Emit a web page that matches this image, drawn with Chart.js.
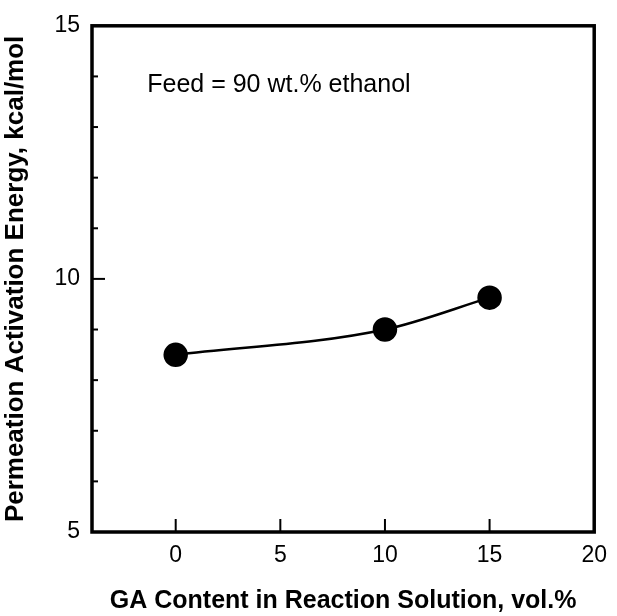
<!DOCTYPE html>
<html>
<head>
<meta charset="utf-8">
<script src="https://cdn.jsdelivr.net/npm/chart.js@4/dist/chart.umd.min.js"></script>
<style>
html,body{margin:0;padding:0;background:#fff;}
#wrap{width:617px;height:616px;}
</style>
</head>
<body>
<div id="wrap"><canvas id="c" width="617" height="616"></canvas></div>
<script>
const gaContent = [0, 10, 15];
const activationEnergy = [8.5, 9.0, 9.63];
const xTickValues = [0, 5, 10, 15, 20];
const yLabelValues = [5, 10, 15];
const xTitle = 'GA Content in Reaction Solution, vol.%';
const yTitle = 'Permeation Activation Energy, kcal/mol';
const noteText = 'Feed = 90 wt.% ethanol';
const notePos = {x: -1.36, y: 13.82};

const FONT = "'Liberation Sans', Arial, Helvetica, sans-serif";

const framePlugin = {
  id: 'frame',
  afterDraw(chart) {
    const ctx = chart.ctx, a = chart.chartArea;
    const xs = chart.scales.x, ys = chart.scales.y;
    ctx.save();
    ctx.strokeStyle = '#000';
    ctx.lineCap = 'butt';
    ctx.lineWidth = 2;
    xs.ticks.forEach(t => {
      if (t.value <= xs.min || t.value >= xs.max) return;
      const px = xs.getPixelForValue(t.value);
      ctx.beginPath(); ctx.moveTo(px, a.bottom); ctx.lineTo(px, a.bottom - 13); ctx.stroke();
    });
    ys.ticks.forEach(t => {
      if (t.value <= ys.min || t.value >= ys.max) return;
      const py = ys.getPixelForValue(t.value);
      const len = (t.value % 5 === 0) ? 13 : 6;
      ctx.beginPath(); ctx.moveTo(a.left, py); ctx.lineTo(a.left + len, py); ctx.stroke();
    });
    ctx.lineWidth = 3.5;
    ctx.strokeRect(a.left, a.top, a.right - a.left, a.bottom - a.top);
    ctx.fillStyle = '#000';
    ctx.font = '25px ' + FONT;
    ctx.textBaseline = 'middle';
    ctx.textAlign = 'left';
    ctx.fillText(noteText, xs.getPixelForValue(notePos.x), ys.getPixelForValue(notePos.y));
    ctx.restore();
  }
};

new Chart(document.getElementById('c'), {
  type: 'line',
  data: {
    datasets: [{
      data: gaContent.map((x, i) => ({x: x, y: activationEnergy[i]})),
      borderColor: '#000',
      borderWidth: 2.5,
      backgroundColor: '#000',
      pointBackgroundColor: '#000',
      pointBorderColor: '#000',
      pointRadius: 11,
      pointHoverRadius: 11,
      cubicInterpolationMode: 'monotone',
      fill: false
    }]
  },
  options: {
    responsive: false,
    animation: false,
    events: [],
    layout: {padding: {top: 24, right: 15, left: 0, bottom: 0}},
    plugins: {legend: {display: false}, tooltip: {enabled: false}},
    scales: {
      x: {
        type: 'linear',
        min: -4, max: 20,
        afterBuildTicks(scale) { scale.ticks = xTickValues.map(v => ({value: v})); },
        afterFit(scale) { scale.height = 84; },
        grid: {display: false, drawTicks: false},
        border: {display: false},
        ticks: {
          color: '#000',
          font: {family: FONT, size: 23},
          padding: 10,
          maxRotation: 0,
          autoSkip: false
        },
        title: {
          display: true,
          text: xTitle,
          color: '#000',
          font: {family: FONT, size: 25, weight: 'bold'},
          padding: {top: 0, bottom: 0}
        }
      },
      y: {
        type: 'linear',
        min: 5, max: 15,
        afterFit(scale) { scale.width = 92; },
        grid: {display: false, drawTicks: false},
        border: {display: false},
        ticks: {
          stepSize: 1,
          color: '#000',
          font: {family: FONT, size: 23},
          padding: 12,
          autoSkip: false,
          callback: (v) => yLabelValues.includes(v) ? String(v) : ''
        },
        title: {
          display: true,
          text: yTitle,
          color: '#000',
          font: {family: FONT, size: 26, weight: 'bold'},
          padding: {top: 0, bottom: 0}
        }
      }
    }
  },
  plugins: [framePlugin]
});
</script>
</body>
</html>
